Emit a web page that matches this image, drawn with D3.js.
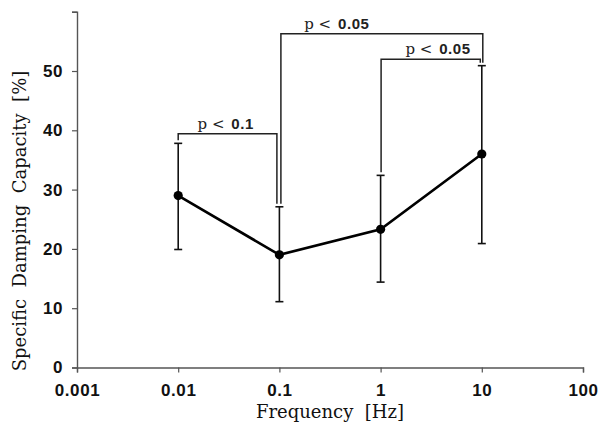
<!DOCTYPE html>
<html>
<head>
<meta charset="utf-8">
<script src="https://cdn.jsdelivr.net/npm/d3@7"></script>
<style>
body{margin:0;background:#fff;}
</style>
</head>
<body>
<svg width="601" height="426"></svg>
<script>
// data
var freqs = [0.01, 0.1, 1, 10];
var means = [29.0, 19.0, 23.3, 36.0];
var upper = [37.8, 27.1, 32.4, 50.9];
var lower = [19.9, 11.1, 14.4, 20.9];

var xTicks = [0.001, 0.01, 0.1, 1, 10, 100];
var xTickLabels = ["0.001", "0.01", "0.1", "1", "10", "100"];
var yTicks = [0, 10, 20, 30, 40, 50, 60];
var yTickLabels = ["0", "10", "20", "30", "40", "50", ""];

// significance brackets: from, to, height, label, label position
var brFrom = [0.01, 0.1, 1];
var brTo = [0.1, 10, 10];
var brY = [39.4, 56.3, 52.0];
var brText = ["0.1", "0.05", "0.05"];
var brLabelX = [0.0295, 0.37, 3.7];

var svg = d3.select("svg");

var x = d3.scaleLog().domain([0.001, 100]).range([77, 583]);
var y = d3.scaleLinear().domain([0, 60]).range([367.5, 11.7]);

var axisColor = "#555";

// minor ticks
var xMinor = [];
xTicks.slice(0, -1).forEach(function(t){
    [2,4,6,8].forEach(function(m){ xMinor.push(t*m); });
});
var yMinor = d3.range(0, 61, 2).filter(d => d % 10 != 0);

var gx = svg.append("g").attr("transform", "translate(0," + y(0) + ")");
gx.call(d3.axisBottom(x).tickValues(xMinor).tickSize(3).tickFormat(""));
gx.call(d3.axisBottom(x).tickValues(xTicks).tickSize(5).tickPadding(11)
    .tickFormat((d,i) => xTickLabels[i]));

var gy = svg.append("g").attr("transform", "translate(" + x(0.001) + ",0)");
gy.call(d3.axisLeft(y).tickValues(yMinor).tickSize(3).tickFormat(""));
gy.call(d3.axisLeft(y).tickValues(yTicks).tickSize(5).tickPadding(9)
    .tickFormat((d,i) => yTickLabels[i]));

svg.selectAll(".domain").attr("stroke", axisColor).attr("stroke-width", 1.4);
svg.selectAll(".tick line").attr("stroke", axisColor).attr("stroke-width", 1.2);
svg.selectAll(".tick text")
    .attr("fill", "#111")
    .style("font-family", "'Liberation Sans', Arial, sans-serif")
    .style("font-weight", "bold")
    .style("font-size", "17px")
    .style("letter-spacing", "0.6px");

// error bars
var eb = svg.append("g").attr("stroke", "#111").attr("stroke-width", 1.6);
freqs.forEach(function(f, i){
    eb.append("line").attr("x1", x(f)).attr("x2", x(f))
        .attr("y1", y(upper[i])).attr("y2", y(lower[i]));
    eb.append("line").attr("x1", x(f)-4).attr("x2", x(f)+4)
        .attr("y1", y(upper[i])).attr("y2", y(upper[i]));
    eb.append("line").attr("x1", x(f)-4).attr("x2", x(f)+4)
        .attr("y1", y(lower[i])).attr("y2", y(lower[i]));
});

// mean line + points
var line = d3.line().x((d,i) => x(freqs[i])).y(d => y(d));
svg.append("path").datum(means)
    .attr("d", line)
    .attr("fill", "none")
    .attr("stroke", "#000")
    .attr("stroke-width", 2.6);

svg.selectAll("circle.pt").data(means).enter().append("circle")
    .attr("class", "pt")
    .attr("cx", (d,i) => x(freqs[i]))
    .attr("cy", d => y(d))
    .attr("r", 4.6)
    .attr("fill", "#000");

// brackets
function upperAt(f){ return upper[freqs.indexOf(f)]; }
var br = svg.append("g").attr("fill", "none").attr("stroke", "#222").attr("stroke-width", 1.5);
brFrom.forEach(function(f, i){
    var x1 = x(f), x2 = x(brTo[i]);
    // nudge lines that would sit on top of an error bar
    if (i == 0) { x2 = x2 - 2.5; }
    if (i == 1) { x1 = x1 + 1.5; x2 = x2 + 1; }
    if (i == 2) { x1 = x1 + 0.5; x2 = x2 - 1.5; }
    var yb = y(brY[i]);
    var yl = y(upperAt(f)) - 3;
    var yr = y(upperAt(brTo[i])) - 3;
    br.append("path").attr("d", "M" + x1 + "," + yl + "V" + yb + "H" + x2 + "V" + yr);

    var t = svg.append("text")
        .attr("x", x(brLabelX[i]))
        .attr("y", yb - 5)
        .attr("text-anchor", "middle")
        .attr("fill", "#222")
        .style("font-size", "15px")
        .style("white-space", "pre");
    t.append("tspan").text("p")
        .style("font-family", "'DejaVu Serif', serif");
    t.append("tspan").text(" < ")
        .style("font-family", "'DejaVu Serif', serif");
    t.append("tspan").text(brText[i])
        .attr("dx", 2)
        .style("font-family", "'Liberation Sans', Arial, sans-serif")
        .style("font-weight", "bold")
        .style("letter-spacing", "0.6px");
});

// axis titles
svg.append("text")
    .attr("x", 330).attr("y", 418)
    .attr("text-anchor", "middle")
    .style("font-family", "'DejaVu Serif', serif")
    .style("font-size", "18px")
    .style("white-space", "pre")
    .attr("fill", "#111")
    .text("Frequency  [Hz]");

svg.append("text")
    .attr("transform", "translate(26,221) rotate(-90)")
    .attr("text-anchor", "middle")
    .style("font-family", "'DejaVu Serif', serif")
    .style("font-size", "18px")
    .style("white-space", "pre")
    .attr("fill", "#111")
    .text("Specific  Damping  Capacity  [%]");
</script>
</body>
</html>
